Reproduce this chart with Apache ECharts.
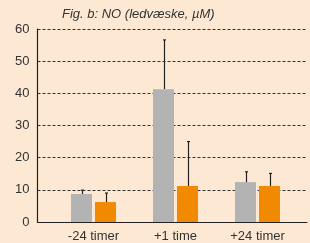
<!DOCTYPE html>
<html>
<head>
<meta charset="utf-8">
<script src="https://cdn.jsdelivr.net/npm/echarts@6/dist/echarts.min.js"></script>
<style>
  html, body { margin: 0; padding: 0; background: #fde9d3; }
  #chart { width: 310px; height: 243px; }
</style>
</head>
<body>
<div id="chart"></div>
<script>
// kategorier og værdier
var categories = ['-24 timer', '+1 time', '+24 timer']
var grayValues = [8.7, 41.3, 12.4]
var grayErrTop = [9.9, 56.6, 15.6]
var orangeValues = [6.2, 11.2, 11.2]
var orangeErrTop = [9.0, 25.0, 15.1]
var yTicks = [0, 10, 20, 30, 40, 50, 60]

var font = '"Liberation Sans Narrow", "Liberation Sans", sans-serif'
var barW = 21
var barGapPx = 3
var half = (barW + barGapPx) / 2

var chart = echarts.init(document.getElementById('chart'))

function errorSeries(values, highs, dir, color) {
  return {
    type: 'custom',
    xAxisIndex: 1,
    yAxisIndex: 1,
    z: 5,
    data: values.map(function (v, i) { return [i, v, highs[i]] }),
    renderItem: function (params, api) {
      var lo = api.coord([api.value(0), api.value(1)])
      var hi = api.coord([api.value(0), api.value(2)])
      var x = Math.round(lo[0] + dir * half) + 0.5
      return {
        type: 'group',
        children: [
          { type: 'line', shape: { x1: x, y1: lo[1], x2: x, y2: hi[1] }, style: { stroke: color, lineWidth: 1.2 } },
          { type: 'line', shape: { x1: x - 1.5, y1: hi[1], x2: x + 1.5, y2: hi[1] }, style: { stroke: color, lineWidth: 1.2 } }
        ]
      }
    }
  }
}

chart.setOption({
  backgroundColor: '#fde9d3',
  animation: false,
  title: {
    text: 'Fig. b: NO (ledvæske, µM)',
    left: 57,
    top: 3,
    textStyle: { fontFamily: font, fontStyle: 'italic', fontWeight: 'normal', fontSize: 13, color: '#333' }
  },
  grid: [
    { left: 37.5, right: 3, top: 29, bottom: 21 },
    { left: 52.5, right: 11.5, top: 29, bottom: 21 }
  ],
  xAxis: [
    {
      gridIndex: 0,
      type: 'category',
      data: categories,
      axisLine: { lineStyle: { color: '#222', width: 1.2 } },
      axisTick: { show: false },
      axisLabel: { show: false }
    },
    {
      gridIndex: 1,
      type: 'category',
      data: categories,
      axisLine: { show: false },
      axisTick: { show: false },
      axisLabel: { fontFamily: font, fontSize: 13, color: '#333', margin: 8 }
    }
  ],
  yAxis: [
    {
      gridIndex: 0,
      type: 'value',
      min: yTicks[0],
      max: yTicks[yTicks.length - 1],
      interval: 10,
      axisLine: { show: true, lineStyle: { color: '#222', width: 1.2 } },
      axisTick: { show: false },
      axisLabel: { fontFamily: font, fontSize: 13, color: '#333', margin: 8 },
      splitLine: { lineStyle: { color: '#333', type: [3, 2], width: 1 } }
    },
    {
      gridIndex: 1,
      type: 'value',
      min: yTicks[0],
      max: yTicks[yTicks.length - 1],
      interval: 10,
      show: false
    }
  ],
  series: [
    {
      type: 'bar',
      xAxisIndex: 1,
      yAxisIndex: 1,
      barWidth: barW,
      barGap: (barGapPx / barW * 100) + '%',
      itemStyle: { color: '#b3b3b3' },
      data: grayValues
    },
    {
      type: 'bar',
      xAxisIndex: 1,
      yAxisIndex: 1,
      barWidth: barW,
      barGap: (barGapPx / barW * 100) + '%',
      itemStyle: { color: '#f18a00' },
      data: orangeValues
    },
    errorSeries(grayValues, grayErrTop, -1, '#222'),
    errorSeries(orangeValues, orangeErrTop, 1, '#222')
  ]
})
</script>
</body>
</html>
